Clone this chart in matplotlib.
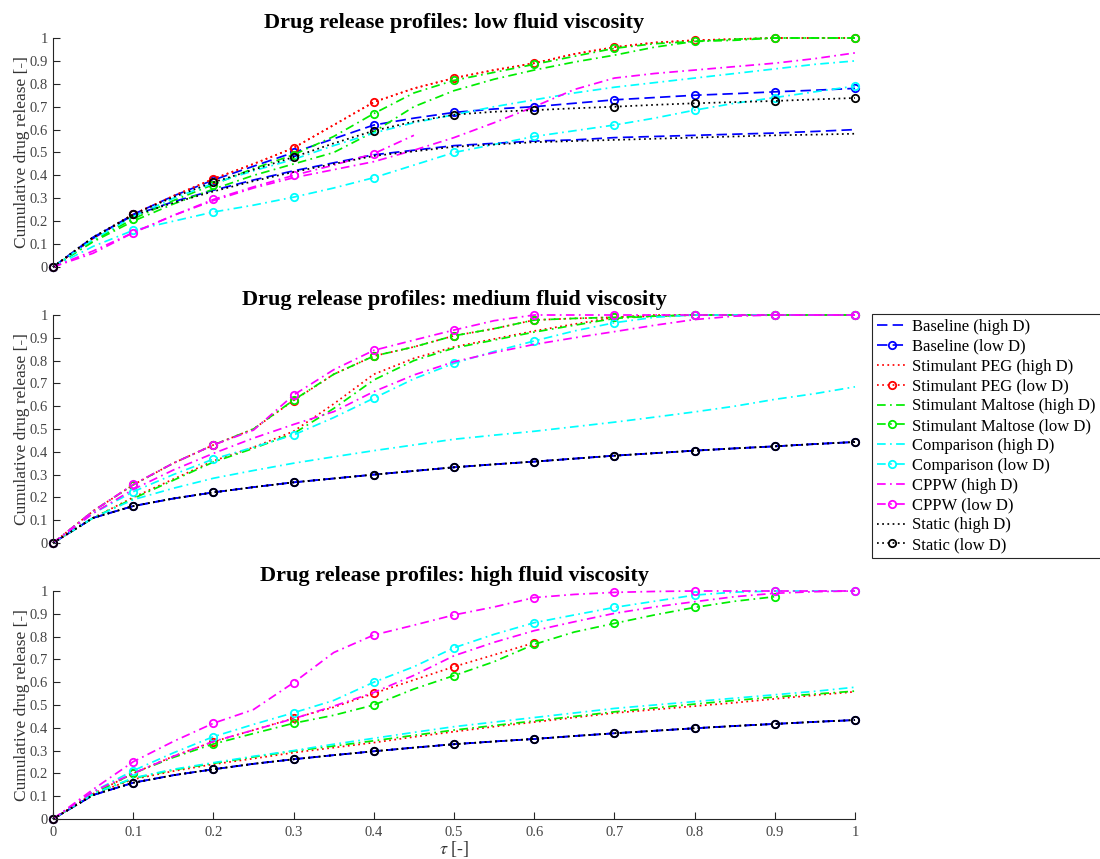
import numpy as np
import matplotlib
matplotlib.use("Agg")
import matplotlib.pyplot as plt

plt.rcParams['font.family'] = ['Liberation Serif', 'DejaVu Serif']
plt.rcParams['mathtext.fontset'] = 'stix'

nan = np.nan
tau = [0, 0.05, 0.1, 0.15, 0.2, 0.25, 0.3, 0.35, 0.4, 0.45, 0.5,
       0.55, 0.6, 0.65, 0.7, 0.75, 0.8, 0.85, 0.9, 0.95, 1.0]

series_labels = ["Baseline (high D)", "Baseline (low D)",
                 "Stimulant PEG (high D)", "Stimulant PEG (low D)",
                 "Stimulant Maltose (high D)", "Stimulant Maltose (low D)",
                 "Comparison (high D)", "Comparison (low D)",
                 "CPPW (high D)", "CPPW (low D)",
                 "Static (high D)", "Static (low D)"]

panel_titles = ["Drug release profiles: low fluid viscosity",
                "Drug release profiles: medium fluid viscosity",
                "Drug release profiles: high fluid viscosity"]

# ---------------- low fluid viscosity ----------------
low_baseline_hi = [0, 0.13, 0.225, 0.285, 0.335, 0.38, 0.42, 0.455, 0.49, 0.51, 0.53,
                   0.54, 0.55, 0.555, 0.565, 0.57, 0.575, 0.58, 0.585, 0.592, 0.60]
low_baseline_lo = [0, 0.125, 0.23, 0.31, 0.38, 0.44, 0.50, 0.56, 0.62, 0.65, 0.675,
                   0.69, 0.70, 0.715, 0.73, 0.74, 0.75, 0.757, 0.765, 0.772, 0.78]
low_peg_hi = [0, 0.125, 0.23, 0.31, 0.385, 0.45, 0.52, 0.62, 0.72, 0.78, 0.825,
              0.86, 0.89, 0.93, 0.96, 0.98, 0.99, 0.995, 1.0, 1.0, 1.0]
low_peg_lo = [0, 0.125, 0.23, 0.31, 0.385, 0.45, 0.52, 0.62, 0.72, 0.78, 0.825,
              0.86, 0.89, 0.93, 0.96, 0.98, 0.99, 0.995, 1.0, 1.0, 1.0]
low_maltose_hi = [0, 0.11, 0.20, 0.275, 0.34, 0.40, 0.45, 0.50, 0.59, 0.70, 0.77,
                  0.82, 0.86, 0.895, 0.925, 0.96, 0.985, 0.995, 1.0, 1.0, 1.0]
low_maltose_lo = [0, 0.115, 0.21, 0.29, 0.36, 0.43, 0.49, 0.57, 0.67, 0.76, 0.815,
                  0.85, 0.885, 0.92, 0.955, 0.975, 0.985, 0.99, 1.0, 1.0, 1.0]
low_comparison_hi = [0, 0.12, 0.22, 0.30, 0.365, 0.42, 0.47, 0.53, 0.585, 0.63, 0.665,
                     0.70, 0.73, 0.76, 0.785, 0.805, 0.825, 0.845, 0.865, 0.885, 0.90]
low_comparison_lo = [0, 0.09, 0.16, 0.20, 0.24, 0.27, 0.305, 0.345, 0.39, 0.445, 0.50,
                     0.535, 0.57, 0.595, 0.62, 0.65, 0.685, 0.715, 0.74, 0.765, 0.79]
low_cppw_hi = [0, 0.06, 0.15, 0.225, 0.29, 0.345, 0.39, 0.425, 0.46, 0.51, 0.565,
               0.63, 0.70, 0.775, 0.825, 0.845, 0.86, 0.875, 0.89, 0.91, 0.935]
low_cppw_lo = [0, 0.07, 0.15, 0.225, 0.295, 0.35, 0.40, 0.445, 0.495, 0.575, nan,
               nan, nan, nan, nan, nan, nan, nan, nan, nan, nan]
low_static_hi = [0, 0.13, 0.225, 0.28, 0.33, 0.375, 0.415, 0.45, 0.485, 0.505, 0.525,
                 0.535, 0.545, 0.55, 0.555, 0.56, 0.565, 0.57, 0.575, 0.578, 0.582]
low_static_lo = [0, 0.13, 0.23, 0.305, 0.37, 0.425, 0.48, 0.54, 0.595, 0.635, 0.665,
                 0.678, 0.685, 0.693, 0.70, 0.708, 0.715, 0.72, 0.725, 0.732, 0.738]

# ---------------- medium fluid viscosity ----------------
med_baseline_hi = [0, 0.11, 0.162, 0.195, 0.222, 0.245, 0.266, 0.283, 0.30, 0.316, 0.332,
                   0.345, 0.357, 0.37, 0.383, 0.394, 0.405, 0.415, 0.424, 0.434, 0.443]
med_baseline_lo = [0, 0.11, 0.162, 0.195, 0.222, 0.245, 0.266, 0.283, 0.30, 0.316, 0.332,
                   0.345, 0.357, 0.37, 0.383, 0.394, 0.405, 0.415, 0.424, 0.434, 0.443]
med_peg_hi = [0, 0.11, 0.20, 0.28, 0.36, 0.42, 0.49, 0.61, 0.74, 0.81, 0.86,
              0.895, 0.93, 0.96, 0.99, 1.0, 1.0, 1.0, 1.0, 1.0, 1.0]
med_peg_lo = [0, 0.14, 0.255, 0.35, 0.43, 0.50, 0.625, 0.74, 0.82, 0.86, 0.909,
              0.94, 0.978, 0.985, 0.99, 0.995, 1.0, 1.0, 1.0, 1.0, 1.0]
med_maltose_hi = [0, 0.11, 0.195, 0.275, 0.355, 0.415, 0.48, 0.59, 0.715, 0.80, 0.855,
                  0.89, 0.925, 0.955, 0.985, 0.995, 1.0, 1.0, 1.0, 1.0, 1.0]
med_maltose_lo = [0, 0.14, 0.255, 0.35, 0.43, 0.50, 0.627, 0.74, 0.82, 0.86, 0.909,
                  0.94, 0.978, 0.985, 0.99, 0.995, 1.0, 1.0, 1.0, 1.0, 1.0]
med_comparison_hi = [0, 0.11, 0.19, 0.24, 0.284, 0.318, 0.35, 0.378, 0.405, 0.43, 0.455,
                     0.473, 0.49, 0.51, 0.53, 0.552, 0.575, 0.60, 0.63, 0.655, 0.685]
med_comparison_lo = [0, 0.13, 0.225, 0.30, 0.368, 0.42, 0.474, 0.55, 0.635, 0.72, 0.788,
                     0.84, 0.886, 0.93, 0.966, 0.99, 1.0, 1.0, 1.0, 1.0, 1.0]
med_cppw_hi = [0, 0.13, 0.235, 0.32, 0.393, 0.46, 0.52, 0.576, 0.664, 0.737, 0.795,
               0.835, 0.871, 0.90, 0.927, 0.955, 0.98, 0.995, 1.0, 1.0, 1.0]
med_cppw_lo = [0, 0.14, 0.257, 0.35, 0.43, 0.495, 0.649, 0.76, 0.845, 0.89, 0.934,
               0.975, 1.0, 1.0, 1.0, 1.0, 1.0, 1.0, 1.0, 1.0, 1.0]
med_static_hi = [0, 0.11, 0.162, 0.195, 0.222, 0.245, 0.266, 0.283, 0.30, 0.316, 0.332,
                 0.345, 0.357, 0.37, 0.383, 0.394, 0.405, 0.415, 0.424, 0.434, 0.443]
med_static_lo = [0, 0.11, 0.162, 0.195, 0.222, 0.245, 0.266, 0.283, 0.30, 0.316, 0.332,
                 0.345, 0.357, 0.37, 0.383, 0.394, 0.405, 0.415, 0.424, 0.434, 0.443]

# ---------------- high fluid viscosity ----------------
high_baseline_hi = [0, 0.105, 0.159, 0.192, 0.218, 0.242, 0.262, 0.28, 0.297, 0.313, 0.328,
                    0.34, 0.351, 0.364, 0.376, 0.387, 0.398, 0.408, 0.417, 0.426, 0.434]
high_baseline_lo = [0, 0.105, 0.159, 0.192, 0.218, 0.242, 0.262, 0.28, 0.297, 0.313, 0.328,
                    0.34, 0.351, 0.364, 0.376, 0.387, 0.398, 0.408, 0.417, 0.426, 0.434]
high_peg_hi = [0, 0.11, 0.174, 0.21, 0.24, 0.265, 0.291, 0.313, 0.335, 0.36, 0.383,
               0.405, 0.425, 0.445, 0.465, 0.48, 0.495, 0.51, 0.527, 0.543, 0.558]
high_peg_lo = [0, 0.11, 0.20, 0.275, 0.339, 0.39, 0.442, 0.49, 0.551, 0.61, 0.668,
               0.72, 0.773, nan, nan, nan, nan, nan, nan, nan, nan]
high_maltose_hi = [0, 0.11, 0.178, 0.215, 0.244, 0.272, 0.298, 0.32, 0.343, 0.367, 0.39,
                   0.41, 0.43, 0.45, 0.47, 0.487, 0.504, 0.52, 0.535, 0.548, 0.561]
high_maltose_lo = [0, 0.11, 0.20, 0.27, 0.329, 0.375, 0.42, 0.455, 0.50, 0.57, 0.629,
                   0.69, 0.766, 0.82, 0.858, 0.895, 0.928, 0.955, 0.975, nan, nan]
high_comparison_hi = [0, 0.11, 0.18, 0.218, 0.247, 0.275, 0.30, 0.328, 0.354, 0.38, 0.405,
                      0.425, 0.445, 0.465, 0.485, 0.50, 0.515, 0.53, 0.545, 0.56, 0.578]
high_comparison_lo = [0, 0.12, 0.212, 0.29, 0.361, 0.415, 0.466, 0.52, 0.60, 0.668, 0.751,
                      0.81, 0.861, 0.895, 0.928, 0.955, 0.982, 0.995, 1.0, 1.0, 1.0]
high_cppw_hi = [0, 0.12, 0.20, 0.275, 0.34, 0.39, 0.44, 0.495, 0.555, 0.63, 0.716,
                0.775, 0.826, 0.865, 0.902, 0.93, 0.953, 0.975, 0.99, 0.997, 1.0]
high_cppw_lo = [0, 0.13, 0.251, 0.34, 0.42, 0.48, 0.598, 0.73, 0.807, 0.85, 0.895,
                0.93, 0.971, 0.985, 0.994, 0.998, 1.0, 1.0, 1.0, 1.0, 1.0]
high_static_hi = [0, 0.105, 0.159, 0.192, 0.218, 0.242, 0.262, 0.28, 0.297, 0.313, 0.328,
                  0.34, 0.351, 0.364, 0.376, 0.387, 0.398, 0.408, 0.417, 0.426, 0.434]
high_static_lo = [0, 0.105, 0.159, 0.192, 0.218, 0.242, 0.262, 0.28, 0.297, 0.313, 0.328,
                  0.34, 0.351, 0.364, 0.376, 0.387, 0.398, 0.408, 0.417, 0.426, 0.434]

panels = [
    [low_baseline_hi, low_baseline_lo, low_peg_hi, low_peg_lo, low_maltose_hi, low_maltose_lo,
     low_comparison_hi, low_comparison_lo, low_cppw_hi, low_cppw_lo, low_static_hi, low_static_lo],
    [med_baseline_hi, med_baseline_lo, med_peg_hi, med_peg_lo, med_maltose_hi, med_maltose_lo,
     med_comparison_hi, med_comparison_lo, med_cppw_hi, med_cppw_lo, med_static_hi, med_static_lo],
    [high_baseline_hi, high_baseline_lo, high_peg_hi, high_peg_lo, high_maltose_hi, high_maltose_lo,
     high_comparison_hi, high_comparison_lo, high_cppw_hi, high_cppw_lo, high_static_hi, high_static_lo],
]

# styles per group (color, dash pattern)
dash_dashed = (0, (6, 3))
dash_dot = (0, (5, 2.5, 1, 2.5))
dash_dotted = (0, (1, 2))
group_styles = [
    ((0, 0, 1), dash_dashed),
    ((1, 0, 0), dash_dotted),
    ((0, 0.93, 0), dash_dot),
    ((0, 1, 1), dash_dot),
    ((1, 0, 1), dash_dot),
    ((0, 0, 0), dash_dotted),
]

fig = plt.figure(figsize=(11.0, 8.59), dpi=100)
W, H = 1100, 859
boxes = [(38, 267), (315, 543), (591, 819)]
x0px, x1px = 53, 855
axcolor = '#262626'
handles = None
for p, (top, bot) in enumerate(boxes):
    ax = fig.add_axes([x0px / W, 1 - bot / H, (x1px - x0px) / W, (bot - top) / H])
    hs = []
    for i, ys in enumerate(panels[p]):
        color, ls = group_styles[i // 2]
        low = (i % 2 == 1)
        h, = ax.plot(tau, ys, color=color, linestyle=ls, linewidth=1.25,
                     marker='o' if low else None, markersize=5.3,
                     markerfacecolor='none', markeredgewidth=1.3,
                     markevery=slice(0, None, 2), label=series_labels[i],
                     clip_on=False)
        hs.append(h)
    if handles is None:
        handles = hs
    ax.set_xlim(0, 1)
    ax.set_ylim(0, 1)
    ax.set_yticks(np.arange(0, 1.01, 0.1))
    ax.set_yticklabels(['0', '0.1', '0.2', '0.3', '0.4', '0.5', '0.6', '0.7', '0.8', '0.9', '1'])
    ax.set_xticks(np.arange(0, 1.01, 0.1))
    ax.set_xticklabels(['0', '0.1', '0.2', '0.3', '0.4', '0.5', '0.6', '0.7', '0.8', '0.9', '1'])
    for s in ['top', 'right']:
        ax.spines[s].set_visible(False)
    ax.spines['left'].set_color(axcolor)
    ax.spines['bottom'].set_color(axcolor)
    ax.tick_params(direction='in', length=5, width=0.8, colors=axcolor,
                   labelsize=10.5, labelcolor='#444444')
    ax.tick_params(axis='x', pad=5)
    ax.set_ylabel('Cumulative drug release [-]', fontsize=12.5, color='#333333', labelpad=0)
    ax.set_title(panel_titles[p], fontsize=16, fontweight='bold', pad=7)
    if p < 2:
        ax.spines['bottom'].set_visible(False)
        ax.tick_params(axis='x', bottom=False, labelbottom=False)
    else:
        ax.set_xlabel(r'$\tau$ [-]', fontsize=13, color='#333333', labelpad=0)

leg = fig.legend(handles=handles, loc='upper left',
                 bbox_to_anchor=(872 / W, 1 - 314 / H),
                 fontsize=12, frameon=True, fancybox=False, framealpha=1,
                 edgecolor='#262626', borderpad=0.3, labelspacing=0.23,
                 handlelength=1.8, handletextpad=0.3, borderaxespad=0)
leg.get_frame().set_linewidth(0.8)

fig.savefig('out.png', dpi=100)
